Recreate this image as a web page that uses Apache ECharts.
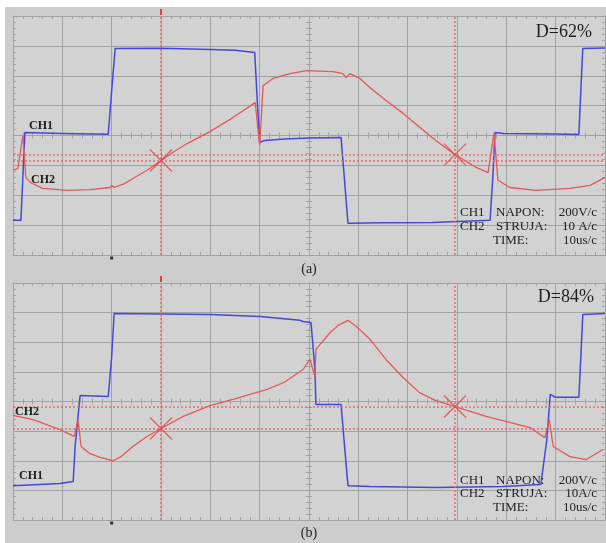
<!DOCTYPE html>
<html>
<head>
<meta charset="utf-8">
<script src="https://cdn.jsdelivr.net/npm/echarts@6/dist/echarts.min.js"></script>
<style>
html,body{margin:0;padding:0;background:#ffffff;}
#c{width:606px;height:543px;}
</style>
</head>
<body>
<div id="c"></div>
<script>
// ---- Panel (a): D=62% ----
const ch1A_t = [0, 0.16, 0.2, 0.24, 1.0, 1.93, 2.0, 2.07, 3.0, 4.0, 4.5, 4.9, 4.95, 5.0, 5.1, 5.5, 6.0, 6.65, 6.72, 6.79, 7.5, 8.5, 9.0, 9.67, 9.69, 9.73, 9.77, 9.95, 10.5, 11.0, 11.47, 11.51, 11.55, 12];
const ch1A_v = [-2.84, -2.84, -1.4, 0.1, 0.07, 0.04, 1.5, 2.91, 2.92, 2.88, 2.85, 2.78, 1.2, -0.23, -0.17, -0.12, -0.08, -0.07, -1.5, -2.94, -2.92, -2.91, -2.88, -2.84, -2.84, -1.3, 0.1, 0.07, 0.06, 0.05, 0.03, 1.5, 2.91, 2.93];
const ch2A_t = [0, 0.1, 0.2, 0.26, 0.35, 0.6, 1.1, 1.56, 1.97, 2.0, 2.05, 2.25, 2.43, 2.71, 3.0, 3.25, 3.53, 3.99, 4.46, 4.91, 5.0, 5.07, 5.27, 5.61, 5.96, 6.49, 6.69, 6.75, 6.83, 7.03, 7.24, 7.56, 7.91, 8.25, 8.57, 8.96, 9.39, 9.63, 9.75, 9.83, 10.07, 10.6, 11.29, 11.7, 12];
const ch2A_v = [-1.17, -1.1, 0.0, -1.4, -1.57, -1.77, -1.84, -1.81, -1.74, -1.67, -1.74, -1.62, -1.44, -1.17, -0.84, -0.55, -0.27, 0.13, 0.6, 1.1, -0.33, 1.67, 1.91, 2.07, 2.17, 2.14, 2.07, 1.94, 2.07, 1.91, 1.6, 1.17, 0.74, 0.27, -0.17, -0.64, -1.07, -1.24, 0.07, -1.5, -1.74, -1.84, -1.77, -1.67, -1.4];
const cursorA_t = [3.0, 8.96];
const cursorA_v = [-0.84, -0.64];

// ---- Panel (b): D=84% ----
const ch1B_t = [0, 0.95, 1.22, 1.26, 1.36, 1.4, 1.93, 2.0, 2.05, 3.99, 5.01, 5.82, 5.88, 6.04, 6.12, 6.14, 6.65, 6.72, 6.79, 7.24, 8.57, 9.93, 10.7, 10.74, 10.82, 10.89, 11.0, 11.47, 11.51, 11.55, 12];
const ch1B_v = [-2.84, -2.77, -2.7, -1.5, 0.2, 0.14, 0.17, 1.5, 2.97, 2.94, 2.87, 2.74, 2.7, 2.67, 1.08, -0.1, -0.1, -1.5, -2.84, -2.87, -2.9, -2.87, -2.8, -2.8, -1.3, 0.24, 0.14, 0.14, 1.5, 2.94, 2.97];
const ch2B_t = [0, 0.41, 0.95, 1.24, 1.32, 1.38, 1.56, 1.8, 2.03, 2.2, 2.43, 2.7, 3.0, 3.45, 3.99, 4.46, 5.15, 5.5, 5.82, 5.88, 6.02, 6.12, 6.14, 6.43, 6.6, 6.79, 6.95, 7.24, 7.56, 7.91, 8.24, 8.57, 8.96, 9.59, 10.48, 10.78, 10.87, 10.95, 11.29, 11.62, 11.96];
const ch2B_v = [-0.47, -0.61, -0.95, -1.18, -0.61, -1.52, -1.76, -1.9, -2.0, -1.85, -1.52, -1.2, -0.91, -0.5, -0.14, 0.07, 0.41, 0.65, 1.01, 1.08, 1.42, 0.84, 1.76, 2.33, 2.58, 2.74, 2.55, 2.09, 1.42, 0.8, 0.3, 0.03, -0.17, -0.5, -0.88, -1.22, -0.61, -1.52, -1.86, -1.96, -1.62];
const cursorB_t = [3.0, 8.96];
const cursorB_v = [-0.91, -0.17];

const triggerT = 2.0;
const titles = ['D=62%', 'D=84%'];
const panelLabels = ['(a)', '(b)'];
const infoRowsA = [['CH1', 'NAPON:', '200V/c'], ['CH2', 'STRUJA:', '10 A/c'], ['', 'TIME:', '10us/c']];
const infoRowsB = [['CH1', 'NAPON:', '200V/c'], ['CH2', 'STRUJA:', '10A/c'], ['', 'TIME:', '10us/c']];

const BLUE = '#4646dc';
const RED = '#e05a5a';
const GRIDC = '#a2a2a2';
const FONT = '"Liberation Serif", "DejaVu Serif", serif';

const grids = [
  {left: 13, top: 16, width: 592, height: 239},
  {left: 13, top: 283, width: 592, height: 237}
];

function pairs(t, v) { return t.map((x, i) => [x, v[i]]); }

const xAxes = [], yAxes = [];
grids.forEach((g, gi) => {
  const tickStyle = {color: GRIDC, width: 1};
  const base = {gridIndex: gi, type: 'value', axisLabel: {show: false},
    axisLine: {onZero: false, lineStyle: {color: GRIDC, width: 1}}, splitLine: {show: false}};
  const xb = Object.assign({}, base, {min: 0, max: 12, interval: 1});
  const yb = Object.assign({}, base, {min: -4, max: 4, interval: 1});
  xAxes.push(Object.assign({}, xb, {position: 'bottom', splitLine: {show: true, lineStyle: {color: GRIDC, width: 1}},
    axisTick: {inside: true, length: 3, lineStyle: tickStyle}, minorTick: {show: true, splitNumber: 5, length: 3, lineStyle: tickStyle}}));
  xAxes.push(Object.assign({}, xb, {position: 'top',
    axisTick: {inside: true, length: 3, lineStyle: tickStyle}, minorTick: {show: true, splitNumber: 5, length: 3, lineStyle: tickStyle}}));
  xAxes.push(Object.assign({}, xb, {position: 'bottom', offset: -g.height / 2,
    axisTick: {inside: true, length: 3, lineStyle: tickStyle}, minorTick: {show: true, splitNumber: 5, length: 3, lineStyle: tickStyle}}));
  xAxes.push(Object.assign({}, xb, {position: 'bottom', offset: -g.height / 2, axisLine: {show: false, onZero: false},
    axisTick: {inside: false, length: 3, lineStyle: tickStyle}, minorTick: {show: true, splitNumber: 5, length: 3, lineStyle: tickStyle}}));

  yAxes.push(Object.assign({}, yb, {position: 'left', splitLine: {show: true, lineStyle: {color: GRIDC, width: 1}},
    axisTick: {inside: true, length: 3, lineStyle: tickStyle}, minorTick: {show: true, splitNumber: 5, length: 3, lineStyle: tickStyle}}));
  yAxes.push(Object.assign({}, yb, {position: 'right',
    axisTick: {inside: true, length: 3, lineStyle: tickStyle}, minorTick: {show: true, splitNumber: 5, length: 3, lineStyle: tickStyle}}));
  yAxes.push(Object.assign({}, yb, {position: 'left', offset: -g.width / 2,
    axisTick: {inside: true, length: 3, lineStyle: tickStyle}, minorTick: {show: true, splitNumber: 5, length: 3, lineStyle: tickStyle}}));
  yAxes.push(Object.assign({}, yb, {position: 'left', offset: -g.width / 2, axisLine: {show: false, onZero: false},
    axisTick: {inside: false, length: 3, lineStyle: tickStyle}, minorTick: {show: true, splitNumber: 5, length: 3, lineStyle: tickStyle}}));
});

const xSym = 'path://M0 0L20 20M20 0L0 20';

function panelSeries(gi, ch1, ch2, ct, cv) {
  const xi = gi * 4, yi = gi * 4;
  const markLineData = ct.map(t => ({xAxis: t})).concat(cv.map(v => ({yAxis: v})));
  return [
    {type: 'line', xAxisIndex: xi, yAxisIndex: yi, data: ch1, showSymbol: false, z: 3,
      lineStyle: {color: BLUE, width: 1.5}, itemStyle: {color: BLUE},
      markPoint: {symbol: 'rect', symbolSize: [3, 3], symbolOffset: [0, 3], silent: true, label: {show: false},
        itemStyle: {color: '#333'}, data: [{coord: [triggerT, -4]}]}},
    {type: 'line', xAxisIndex: xi, yAxisIndex: yi, data: ch2, showSymbol: false, z: 4,
      lineStyle: {color: RED, width: 1.3}, itemStyle: {color: RED},
      markLine: {silent: true, symbol: 'none', label: {show: false},
        lineStyle: {color: '#e36a6a', width: 1.5, type: [2, 2]}, data: markLineData},
      markPoint: {symbol: 'rect', symbolSize: [2, 6], symbolOffset: [0, -4], silent: true, label: {show: false},
        itemStyle: {color: '#e04040'}, data: [{coord: [ct[0], 4]}]}},
    {type: 'scatter', xAxisIndex: xi, yAxisIndex: yi, symbol: xSym, symbolSize: 22, z: 5,
      itemStyle: {color: 'rgba(0,0,0,0)', borderColor: '#e04848', borderWidth: 1.4},
      data: ct.map((t, i) => [t, cv[i]])}
  ];
}

const series = []
  .concat(panelSeries(0, pairs(ch1A_t, ch1A_v), pairs(ch2A_t, ch2A_v), cursorA_t, cursorA_v))
  .concat(panelSeries(1, pairs(ch1B_t, ch1B_v), pairs(ch2B_t, ch2B_v), cursorB_t, cursorB_v));

function txt(x, y, s, size, align, weight) {
  return {type: 'text', x: x, y: y, silent: true, z: 100,
    style: {text: s, fill: '#1e1e1e', font: (weight || 'normal') + ' ' + size + 'px ' + FONT, textAlign: align || 'left', textVerticalAlign: 'middle'}};
}

const graphics = [
  {type: 'rect', shape: {x: 5, y: 7, width: 601, height: 536}, style: {fill: '#cdcdcd'}, z: -10, silent: true},
  txt(592, 32, titles[0], 18, 'right'),
  txt(594, 297, titles[1], 18, 'right'),
  txt(309, 269, panelLabels[0], 14, 'center'),
  txt(309, 533, panelLabels[1], 14, 'center'),
  txt(29, 126, 'CH1', 12, 'left', 'bold'),
  txt(31, 180, 'CH2', 12, 'left', 'bold'),
  txt(15, 412, 'CH2', 12, 'left', 'bold'),
  txt(19, 476, 'CH1', 12, 'left', 'bold')
];
function infoBlock(rows, ys) {
  rows.forEach((r, i) => {
    if (r[0]) graphics.push(txt(460, ys[i], r[0], 13, 'left'));
    graphics.push(txt(r[1] === 'TIME:' ? 493 : 496, ys[i], r[1], 13, 'left'));
    graphics.push(txt(597, ys[i], r[2], 13, 'right'));
  });
}
infoBlock(infoRowsA, [213, 227, 241]);
infoBlock(infoRowsB, [481, 494, 508]);

const chart = echarts.init(document.getElementById('c'), null, {renderer: 'canvas'});
chart.setOption({
  animation: false,
  backgroundColor: '#ffffff',
  grid: grids.map(g => Object.assign({show: true, backgroundColor: '#d2d2d2', borderWidth: 0, containLabel: false}, g)),
  xAxis: xAxes,
  yAxis: yAxes,
  series: series,
  graphic: graphics
});
</script>
</body>
</html>
